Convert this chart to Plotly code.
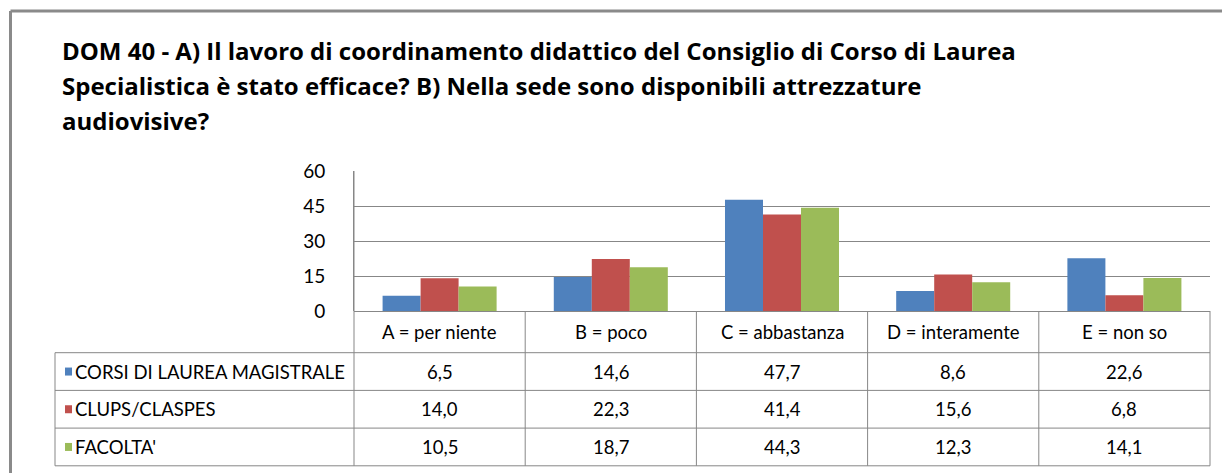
import plotly.graph_objects as go

# Survey answers (percent) per response category
categories = ["A = per niente", "B = poco", "C = abbastanza", "D = interamente", "E = non so"]
series_names = ["CORSI DI LAUREA MAGISTRALE", "CLUPS/CLASPES", "FACOLTA'"]
corsi_magistrale = [6.5, 14.6, 47.7, 8.6, 22.6]
clups_claspes = [14.0, 22.3, 41.4, 15.6, 6.8]
facolta = [10.5, 18.7, 44.3, 12.3, 14.1]
series_values = [corsi_magistrale, clups_claspes, facolta]
series_colors = ["#4F81BD", "#C0504D", "#9BBB59"]
y_ticks = [0, 15, 30, 45, 60]

title_lines = [
    "DOM 40 - A) Il lavoro di coordinamento didattico del Consiglio di Corso di Laurea",
    "Specialistica è stato efficace? B) Nella sede sono disponibili attrezzature",
    "audiovisive?",
]

W, H = 1222, 473
PL, PR, PT, PB = 354, 1210, 171, 311  # plot area in pixels
FONT = "Lato, 'Open Sans', sans-serif"
TITLE_FONT = "'Open Sans', Lato, sans-serif"
GRID = "#878787"
TXT = 18.5


def fx(x):
    return (x - PL) / (PR - PL)


def fy(y):
    return (PB - y) / (PB - PT)


fig = go.Figure()
for name, vals, col in zip(series_names, series_values, series_colors):
    fig.add_trace(go.Bar(x=categories, y=vals, name=name, marker_color=col,
                         marker_line_width=0, showlegend=False))

shapes = []
annotations = []


def hline(y, x0, x1, width=1, color=GRID):
    shapes.append(dict(type="line", xref="paper", yref="paper", x0=fx(x0), x1=fx(x1),
                       y0=fy(y), y1=fy(y), line=dict(color=color, width=width)))


def vline(x, y0, y1, width=1, color=GRID):
    shapes.append(dict(type="line", xref="paper", yref="paper", x0=fx(x), x1=fx(x),
                       y0=fy(y0), y1=fy(y1), line=dict(color=color, width=width)))


# outer chart frame
hline(11, 10.5, 1222, width=3, color="#8A8A8A")
vline(10.5, 11, 473, width=3, color="#8A8A8A")

# category label row and data table grid
ncat = len(categories)
col_w = (PR - PL) / ncat
col_edges = [PL + i * col_w for i in range(ncat + 1)]
TL = 55
row_edges = [352.7, 390.4, 428.1, 465.8]
for x in col_edges:
    vline(x, PB, row_edges[-1])
vline(TL, row_edges[0], row_edges[-1])
vline(PL, PT, PB)
for y in row_edges:
    hline(y, TL, PR)

# category labels
for i, c in enumerate(categories):
    annotations.append(dict(text=c, xref="paper", yref="paper", x=fx(PL + (i + 0.5) * col_w),
                            y=fy((PB + row_edges[0]) / 2), xanchor="center", yanchor="middle",
                            showarrow=False, font=dict(size=TXT, color="black", family=FONT)))

# table rows: legend key, series name, values
for r, (name, vals, col) in enumerate(zip(series_names, series_values, series_colors)):
    yc = (row_edges[r] + row_edges[r + 1]) / 2
    shapes.append(dict(type="rect", xref="paper", yref="paper", x0=fx(65), x1=fx(72),
                       y0=fy(yc + 4), y1=fy(yc - 4), fillcolor=col, line=dict(width=0)))
    annotations.append(dict(text=name, xref="paper", yref="paper", x=fx(72.5), y=fy(yc),
                            xanchor="left", yanchor="middle", showarrow=False,
                            font=dict(size=TXT, color="black", family=FONT)))
    for i, v in enumerate(vals):
        annotations.append(dict(text=f"{v:.1f}".replace(".", ","), xref="paper", yref="paper",
                                x=fx(PL + (i + 0.5) * col_w), y=fy(yc), xanchor="center",
                                yanchor="middle", showarrow=False,
                                font=dict(size=TXT, color="black", family=FONT)))

# title, one line per annotation
for k, line in enumerate(title_lines):
    annotations.append(dict(text=f"<b>{line}</b>", xref="paper", yref="paper", x=fx(60),
                            y=fy(51 + 34.5 * k), xanchor="left", yanchor="middle",
                            showarrow=False,
                            font=dict(size=24, color="black", family=TITLE_FONT)))

fig.update_layout(
    width=W, height=H,
    margin=dict(l=PL, r=W - PR, t=PT, b=H - PB, pad=0),
    paper_bgcolor="white", plot_bgcolor="white",
    barmode="group", bargap=0.334, bargroupgap=0,
    shapes=shapes, annotations=annotations,
    xaxis=dict(range=[-0.5, ncat - 0.5], showticklabels=False, showgrid=False,
               zeroline=False, showline=False, fixedrange=True),
    yaxis=dict(range=[0, 60], tickvals=y_ticks, showgrid=True, gridcolor=GRID, gridwidth=1,
               zeroline=True, zerolinecolor=GRID, zerolinewidth=1,
               showline=True, linecolor=GRID, linewidth=1,
               ticks="outside", ticklen=0, ticklabelstandoff=24,
               tickfont=dict(size=19, color="black", family=FONT), fixedrange=True),
)

fig.write_html("out.html", config={"displayModeBar": False})
